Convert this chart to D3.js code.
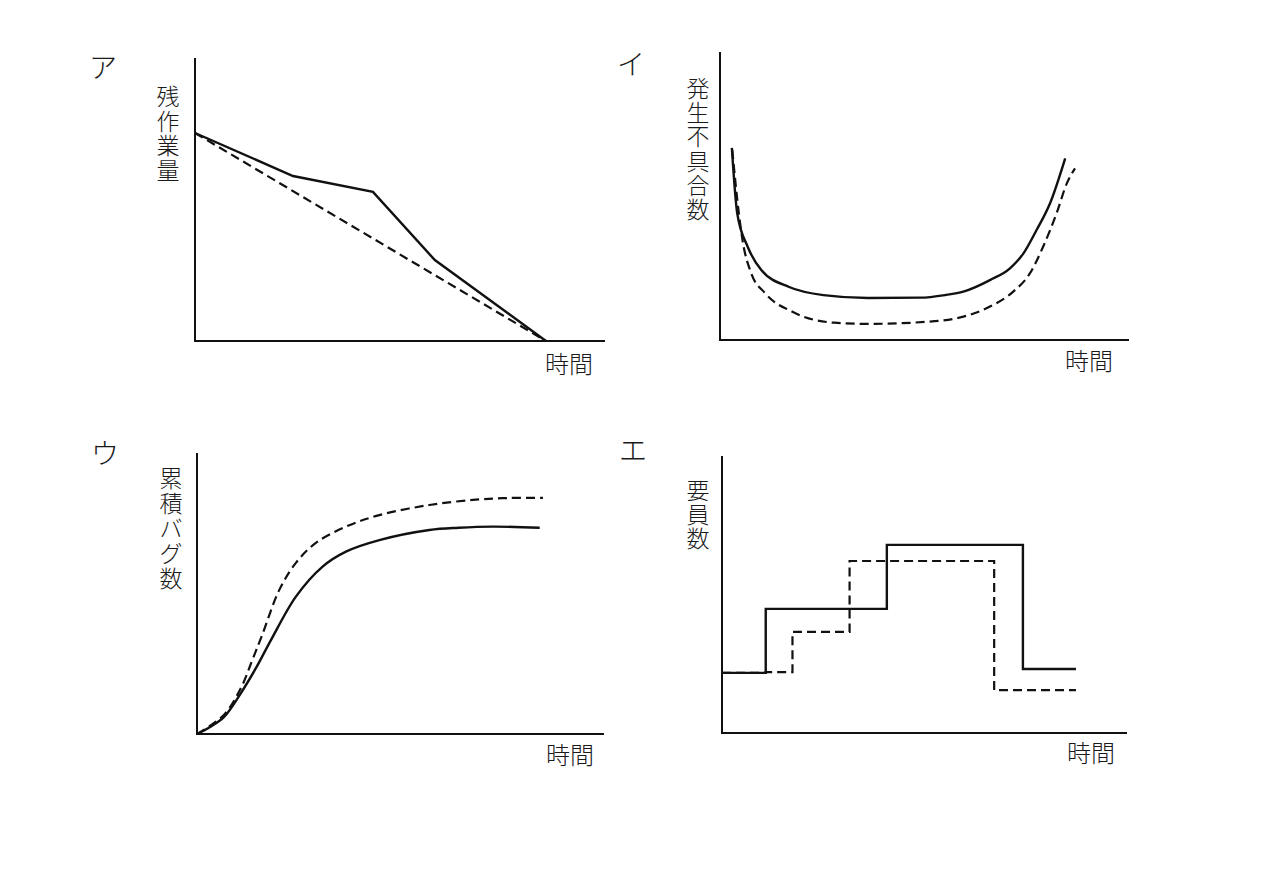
<!DOCTYPE html>
<html>
<head>
<meta charset="utf-8">
<script src="https://cdn.jsdelivr.net/npm/d3@7"></script>
<style>
  body { margin: 0; background: #fff; }
  svg text { font-family: "Noto Sans CJK JP", "Noto Sans", sans-serif; fill: #1a1a1a; font-weight: 300; }
</style>
</head>
<body>
<svg id="chart" width="1280" height="870"></svg>
<script>
// values in 0..100 units of each panel (time, quantity)
const remainingActual = [[0, 73.5], [23.9, 58.3], [43.4, 52.7], [58.5, 28.6], [85.6, 0]];
const remainingPlan = [[0, 73.5], [85.6, 0]];

const defectsActual = [[2.9, 66.7], [4.2, 44.1], [6.8, 32.3], [10.1, 24.3], [16.9, 18.4], [25.3, 15.6],
  [36.2, 14.6], [48.9, 14.7], [55.0, 15.6], [59.5, 16.8], [66.0, 20.8], [70.9, 24.9],
  [74.2, 30.1], [77.4, 38.2], [80.7, 47.5], [84.4, 63.1]];
const defectsPlan = [[3.0, 66.0], [4.6, 44.1], [5.5, 34.7], [7.6, 23.3], [11.0, 16.3], [17.7, 9.8],
  [27.9, 6.0], [36.2, 5.6], [51.3, 6.4], [59.5, 8.1], [66.0, 11.6], [71.7, 16.8],
  [75.8, 23.2], [79.0, 32.4], [82.3, 44.0], [84.8, 54.4], [86.8, 59.6]];

const bugsActual = [[0, 0], [3.2, 2.5], [6.6, 6.0], [10.8, 14.6], [14.5, 23.5], [18.2, 33.5],
  [24.3, 48.9], [30.8, 59.5], [36.6, 64.9], [44.8, 69.0], [57.1, 72.6], [64.3, 73.4],
  [72.7, 73.8], [84.2, 73.4]];
const bugsPlan = [[0, 0], [6.6, 6.8], [10.8, 16.4], [13.5, 26.0], [16.0, 35.2], [20.2, 51.2],
  [24.3, 60.9], [29.2, 68.0], [36.6, 73.8], [44.8, 77.9], [57.1, 81.5], [68.5, 83.4],
  [77.0, 84.0], [85.0, 84.0]];

const staffActual = [[0, 21.7], [10.8, 44.8], [40.7, 67.9], [74.3, 23.1], [87.4, 23.1]];
const staffPlan = [[0, 21.7], [10.8, 22.0], [17.4, 36.5], [31.5, 62.1], [67.2, 15.5], [87.4, 15.5]];

const panelLabels = ["ア", "イ", "ウ", "エ"];
const yTitles = ["残作業量", "発生不具合数", "累積バグ数", "要員数"];
const xTitle = "時間";

// layout of the four small charts; title = [x centre, first char centre, step]
const panels = [
  { x0: 195, x1: 605, y0: 341, y1: 58, tag: [103, 66], title: [168, 95, 24.7], xt: [569, 362],
    solid: remainingActual, dashed: remainingPlan, curve: d3.curveLinear },
  { x0: 720, x1: 1129, y0: 340, y1: 52, tag: [631, 63], title: [698, 87, 24.2], xt: [1089, 359],
    solid: defectsActual, dashed: defectsPlan, curve: d3.curveMonotoneX },
  { x0: 197, x1: 604, y0: 734, y1: 453, tag: [105, 452], title: [171, 477, 25], xt: [570, 753],
    solid: bugsActual, dashed: bugsPlan, curve: d3.curveCatmullRom.alpha(0.5) },
  { x0: 722, x1: 1127, y0: 733, y1: 456, tag: [633, 449], title: [698, 489, 24], xt: [1091, 751],
    solid: staffActual, dashed: staffPlan, curve: d3.curveStepAfter }
];

const svg = d3.select("#chart");

panels.forEach(function (p, i) {
  const g = svg.append("g");
  const x = d3.scaleLinear().domain([0, 100]).range([p.x0, p.x1]);
  const y = d3.scaleLinear().domain([0, 100]).range([p.y0, p.y1]);

  // axes: plain lines, no ticks
  g.append("path")
    .attr("d", `M${x(0)},${y(100)}V${y(0)}H${x(100)}`)
    .attr("fill", "none")
    .attr("stroke", "#111")
    .attr("stroke-width", 2);

  const line = d3.line().x(d => x(d[0])).y(d => y(d[1])).curve(p.curve);

  g.append("path")
    .datum(p.dashed)
    .attr("d", line)
    .attr("fill", "none")
    .attr("stroke", "#111")
    .attr("stroke-width", 2.2)
    .attr("stroke-dasharray", "9,5");

  g.append("path")
    .datum(p.solid)
    .attr("d", line)
    .attr("fill", "none")
    .attr("stroke", "#111")
    .attr("stroke-width", 2.4);

  g.append("text")
    .attr("x", p.tag[0]).attr("y", p.tag[1])
    .attr("text-anchor", "middle")
    .attr("dominant-baseline", "central")
    .attr("font-size", 28)
    .text(panelLabels[i]);

  // vertical title, one character per row
  g.selectAll(".ychar")
    .data(Array.from(yTitles[i]))
    .enter().append("text")
    .attr("class", "ychar")
    .attr("x", p.title[0])
    .attr("y", (d, k) => p.title[1] + k * p.title[2])
    .attr("text-anchor", "middle")
    .attr("dominant-baseline", "central")
    .attr("font-size", 23)
    .text(d => d);

  g.append("text")
    .attr("x", p.xt[0]).attr("y", p.xt[1])
    .attr("text-anchor", "middle")
    .attr("dominant-baseline", "central")
    .attr("font-size", 24)
    .text(xTitle);
});
</script>
</body>
</html>
